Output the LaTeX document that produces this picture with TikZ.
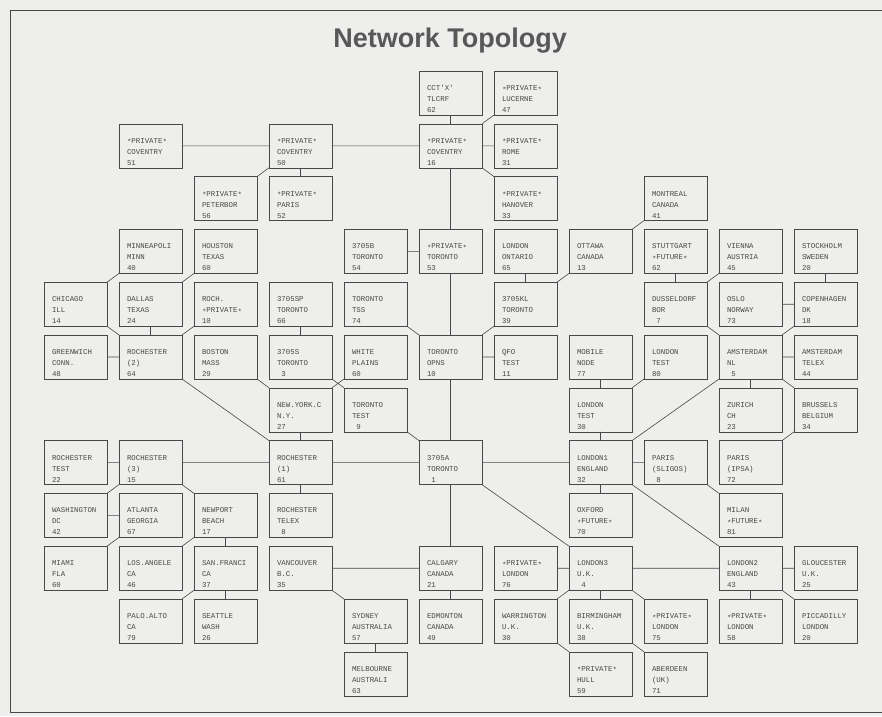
\documentclass[tikz,border=0pt]{standalone}
\usepackage{fontspec}
\setmainfont{Liberation Sans}
\setmonofont{Liberation Mono}
\definecolor{paper}{RGB}{238,238,236}
\definecolor{ink}{RGB}{72,72,72}
\definecolor{titlegray}{RGB}{88,88,88}
\newcommand\lsp{\phantom{0}}
\newcommand\pst{\raisebox{-0.22em}{*}}
\newcommand\stxt[3]{\parbox[c][44pt][b]{47pt}{\ttfamily\fontsize{7.4}{11}\selectfont\raggedright #1\\#2\\#3\par\vskip2.5pt}}
\newcommand\stn[6]{\node[stn] (#1) at ({75.5+75*#2},{93+52.8*#3}) {\stxt{#4}{#5}{#6}};}
\begin{document}
\begin{tikzpicture}[x=1pt,y=-1pt,
  stn/.style={draw=ink, line width=0.6pt, inner sep=0pt, outer sep=0pt, minimum width=63pt, minimum height=44pt, text=ink},
  link/.style={draw=ink, line width=0.6pt}]
\useasboundingbox (0,0) rectangle (882,716);
\fill[paper] (0,0) rectangle (882,716);
\draw[ink, line width=1pt] (882,10) -- (10.5,10) -- (10.5,712) -- (882,712);
\node[font=\fontsize{27}{30}\selectfont\bfseries, text=titlegray, anchor=base] (title) at (450,47) {Network Topology};
% stations
\stn{cct}{5}{0}{CCT'X'}{TLCRF}{62}
\stn{lucerne}{6}{0}{\pst PRIVATE\pst}{LUCERNE}{47}
\stn{cov51}{1}{1}{\pst PRIVATE\pst}{COVENTRY}{51}
\stn{cov50}{3}{1}{\pst PRIVATE\pst}{COVENTRY}{50}
\stn{cov16}{5}{1}{\pst PRIVATE\pst}{COVENTRY}{16}
\stn{rome}{6}{1}{\pst PRIVATE\pst}{ROME}{31}
\stn{peter}{2}{2}{\pst PRIVATE\pst}{PETERBOR}{56}
\stn{paris52}{3}{2}{\pst PRIVATE\pst}{PARIS}{52}
\stn{hanover}{6}{2}{\pst PRIVATE\pst}{HANOVER}{33}
\stn{montreal}{8}{2}{MONTREAL}{CANADA}{41}
\stn{minn}{1}{3}{MINNEAPOLI}{MINN}{40}
\stn{houston}{2}{3}{HOUSTON}{TEXAS}{60}
\stn{tor54}{4}{3}{3705B}{TORONTO}{54}
\stn{tor53}{5}{3}{\pst PRIVATE\pst}{TORONTO}{53}
\stn{lonont}{6}{3}{LONDON}{ONTARIO}{65}
\stn{ottawa}{7}{3}{OTTAWA}{CANADA}{13}
\stn{stutt}{8}{3}{STUTTGART}{\pst FUTURE\pst}{62}
\stn{vienna}{9}{3}{VIENNA}{AUSTRIA}{45}
\stn{stock}{10}{3}{STOCKHOLM}{SWEDEN}{20}
\stn{chicago}{0}{4}{CHICAGO}{ILL}{14}
\stn{dallas}{1}{4}{DALLAS}{TEXAS}{24}
\stn{roch10}{2}{4}{ROCH.}{\pst PRIVATE\pst}{10}
\stn{tor66}{3}{4}{3705SP}{TORONTO}{66}
\stn{tss}{4}{4}{TORONTO}{TSS}{74}
\stn{tor39}{6}{4}{3705KL}{TORONTO}{39}
\stn{dussel}{8}{4}{DUSSELDORF}{BOR}{\lsp7}
\stn{oslo}{9}{4}{OSLO}{NORWAY}{73}
\stn{copen}{10}{4}{COPENHAGEN}{DK}{18}
\stn{greenwich}{0}{5}{GREENWICH}{CONN.}{48}
\stn{roch64}{1}{5}{ROCHESTER}{(2)}{64}
\stn{boston}{2}{5}{BOSTON}{MASS}{29}
\stn{tor3}{3}{5}{3705S}{TORONTO}{\lsp3}
\stn{white}{4}{5}{WHITE}{PLAINS}{60}
\stn{opns}{5}{5}{TORONTO}{OPNS}{10}
\stn{qfo}{6}{5}{QFO}{TEST}{11}
\stn{mobile}{7}{5}{MOBILE}{NODE}{77}
\stn{lontest80}{8}{5}{LONDON}{TEST}{80}
\stn{amst}{9}{5}{AMSTERDAM}{NL}{\lsp5}
\stn{amtelex}{10}{5}{AMSTERDAM}{TELEX}{44}
\stn{ny}{3}{6}{NEW.YORK.C}{N.Y.}{27}
\stn{tortest}{4}{6}{TORONTO}{TEST}{\lsp9}
\stn{lontest30}{7}{6}{LONDON}{TEST}{30}
\stn{zurich}{9}{6}{ZURICH}{CH}{23}
\stn{brussels}{10}{6}{BRUSSELS}{BELGIUM}{34}
\stn{rochtest}{0}{7}{ROCHESTER}{TEST}{22}
\stn{roch15}{1}{7}{ROCHESTER}{(3)}{15}
\stn{roch61}{3}{7}{ROCHESTER}{(1)}{61}
\stn{tor1}{5}{7}{3705A}{TORONTO}{\lsp1}
\stn{london1}{7}{7}{LONDON1}{ENGLAND}{32}
\stn{sligos}{8}{7}{PARIS}{(SLIGOS)}{\lsp8}
\stn{ipsa}{9}{7}{PARIS}{(IPSA)}{72}
\stn{wash}{0}{8}{WASHINGTON}{DC}{42}
\stn{atlanta}{1}{8}{ATLANTA}{GEORGIA}{67}
\stn{newport}{2}{8}{NEWPORT}{BEACH}{17}
\stn{telex}{3}{8}{ROCHESTER}{TELEX}{\lsp8}
\stn{oxford}{7}{8}{OXFORD}{\pst FUTURE\pst}{70}
\stn{milan}{9}{8}{MILAN}{\pst FUTURE\pst}{81}
\stn{miami}{0}{9}{MIAMI}{FLA}{60}
\stn{la}{1}{9}{LOS.ANGELE}{CA}{46}
\stn{sf}{2}{9}{SAN.FRANCI}{CA}{37}
\stn{vanc}{3}{9}{VANCOUVER}{B.C.}{35}
\stn{calgary}{5}{9}{CALGARY}{CANADA}{21}
\stn{pl76}{6}{9}{\pst PRIVATE\pst}{LONDON}{76}
\stn{london3}{7}{9}{LONDON3}{U.K.}{\lsp4}
\stn{london2}{9}{9}{LONDON2}{ENGLAND}{43}
\stn{glouc}{10}{9}{GLOUCESTER}{U.K.}{25}
\stn{palo}{1}{10}{PALO.ALTO}{CA}{79}
\stn{seattle}{2}{10}{SEATTLE}{WASH}{26}
\stn{sydney}{4}{10}{SYDNEY}{AUSTRALIA}{57}
\stn{edmonton}{5}{10}{EDMONTON}{CANADA}{49}
\stn{warr}{6}{10}{WARRINGTON}{U.K.}{30}
\stn{birm}{7}{10}{BIRMINGHAM}{U.K.}{38}
\stn{pl75}{8}{10}{\pst PRIVATE\pst}{LONDON}{75}
\stn{pl58}{9}{10}{\pst PRIVATE\pst}{LONDON}{58}
\stn{picc}{10}{10}{PICCADILLY}{LONDON}{20}
\stn{melb}{4}{11}{MELBOURNE}{AUSTRALI}{63}
\stn{hull}{7}{11}{\pst PRIVATE\pst}{HULL}{59}
\stn{aberdeen}{8}{11}{ABERDEEN}{(UK)}{71}
% links
\path[link]
 (cov51) -- (cov50)
 (cov50) -- (cov16)
 (cov50.south west) -- (peter.north east)
 (cov50) -- (paris52)
 (cov16) -- (cct)
 (cov16.north east) -- (lucerne.south west)
 (cov16) -- (rome)
 (cov16.south east) -- (hanover.north west)
 (cov16) -- (tor53)
 (montreal.south west) -- (ottawa.north east)
 (minn.south west) -- (chicago.north east)
 (houston.south west) -- (dallas.north east)
 (chicago.south east) -- (roch64.north west)
 (dallas) -- (roch64)
 (roch10.south west) -- (roch64.north east)
 (greenwich) -- (roch64)
 (roch64.south east) -- (roch61.north west)
 (boston.south east) -- (ny.north west)
 (tor66) -- (tor3)
 (tor3.south east) -- (tortest.north west)
 (white.south west) -- (ny.north east)
 (tor54) -- (tor53)
 (tor53) -- (opns)
 (tss.south east) -- (opns.north west)
 (lonont) -- (tor39)
 (ottawa.south west) -- (tor39.north east)
 (tor39.south west) -- (opns.north east)
 (opns) -- (qfo)
 (opns) -- (tor1)
 (tortest.south east) -- (tor1.north west)
 (ny) -- (roch61)
 (roch61) -- (tor1)
 (roch15) -- (roch61)
 (roch61) -- (telex)
 (rochtest) -- (roch15)
 (roch15.south west) -- (wash.north east)
 (roch15.south east) -- (newport.north west)
 (wash) -- (atlanta)
 (atlanta.south west) -- (miami.north east)
 (newport.south west) -- (la.north east)
 (newport) -- (sf)
 (sf.south west) -- (palo.north east)
 (sf) -- (seattle)
 (vanc) -- (calgary)
 (vanc.south east) -- (sydney.north west)
 (sydney) -- (melb)
 (tor1) -- (calgary)
 (calgary) -- (edmonton)
 (tor1) -- (london1)
 (tor1.south east) -- (london3.north west)
 (london1) -- (lontest30)
 (lontest30) -- (mobile)
 (lontest30.north east) -- (lontest80.south west)
 (london1.north east) -- (amst.south west)
 (london1) -- (sligos)
 (london1) -- (oxford)
 (london1.south east) -- (london2.north west)
 (sligos.south east) -- (milan.north west)
 (ipsa.north east) -- (brussels.south west)
 (amst) -- (zurich)
 (amst) -- (amtelex)
 (amst.south east) -- (brussels.north west)
 (dussel.south east) -- (amst.north west)
 (amst.north east) -- (copen.south west)
 (stutt) -- (dussel)
 (vienna.south west) -- (dussel.north east)
 (oslo) -- (copen)
 (stock) -- (copen)
 (london3) -- (pl76)
 (london3) -- (london2)
 (london3) -- (birm)
 (london3.south west) -- (warr.north east)
 (london3.south east) -- (pl75.north west)
 (london2) -- (glouc)
 (london2) -- (pl58)
 (london2.south east) -- (picc.north west)
 (warr.south east) -- (hull.north west)
 (birm.south east) -- (aberdeen.north west);
\end{tikzpicture}
\end{document}
